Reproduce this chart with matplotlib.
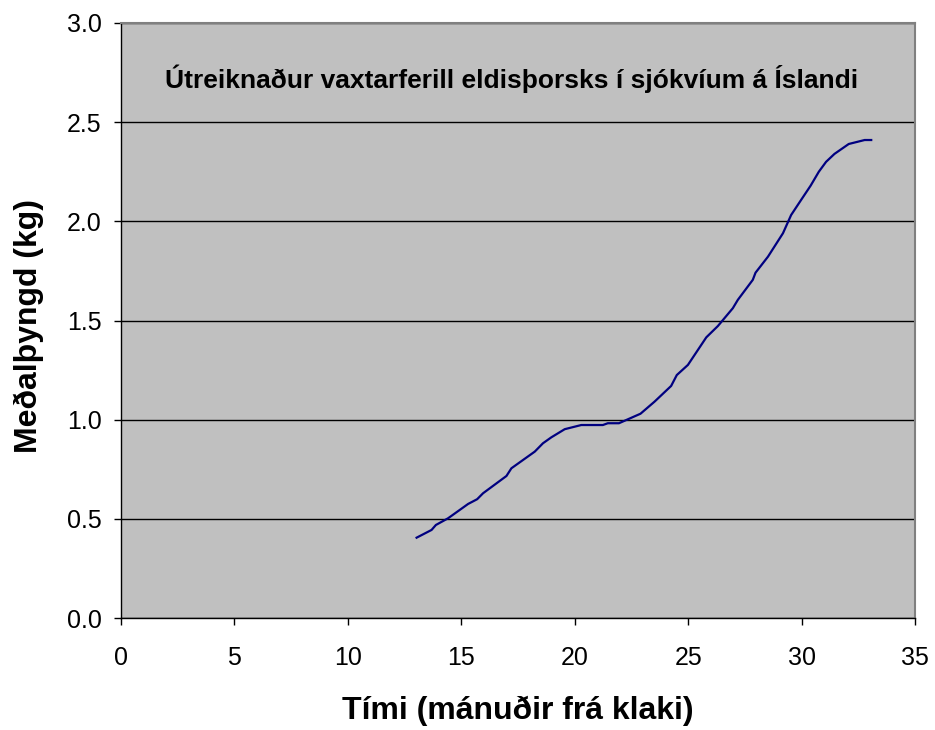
import matplotlib
matplotlib.use("Agg")
import matplotlib.pyplot as plt

months = [13.03, 13.69, 13.88, 14.42, 15.30, 15.70, 15.96, 16.99, 17.21, 18.24,
          18.60, 18.97, 19.56, 20.29, 21.24, 21.46, 21.95, 22.90, 23.52, 24.25,
          24.50, 24.99, 25.80, 26.31, 26.97, 27.19, 27.85, 27.97, 28.52, 29.18,
          29.54, 29.98, 30.40, 30.76, 31.08, 31.45, 32.08, 32.78, 33.07]
weight = [0.405, 0.444, 0.469, 0.503, 0.575, 0.599, 0.629, 0.716, 0.755, 0.839,
          0.881, 0.911, 0.952, 0.973, 0.973, 0.982, 0.982, 1.030, 1.091, 1.170,
          1.225, 1.276, 1.415, 1.472, 1.562, 1.604, 1.705, 1.741, 1.822, 1.940,
          2.032, 2.108, 2.180, 2.250, 2.300, 2.340, 2.390, 2.410, 2.410]

x_ticks = [0, 5, 10, 15, 20, 25, 30, 35]
y_ticks = [0.0, 0.5, 1.0, 1.5, 2.0, 2.5, 3.0]

plt.rcParams['font.family'] = ['Liberation Sans', 'DejaVu Sans']

W, H = 935, 730
fig = plt.figure(figsize=(W/100, H/100), dpi=100)
ax = fig.add_axes([121/W, 1 - 618/H, (915-121)/W, (618-23)/H])
ax.set_facecolor('#C0C0C0')

ax.plot(months, weight, color='#000080', linewidth=1.6)

ax.set_xlim(0, 35)
ax.set_ylim(0, 3.0)
ax.set_xticks(x_ticks)
ax.set_xticklabels([str(v) for v in x_ticks])
ax.set_yticks(y_ticks)
ax.set_yticklabels([f"{v:.1f}" for v in y_ticks])
ax.yaxis.grid(True, color='black', linewidth=1.0)
ax.set_axisbelow(True)
ax.tick_params(axis='both', direction='out', length=5, width=1, labelsize=18, colors='black')
ax.tick_params(axis='x', pad=15)
ax.tick_params(axis='y', pad=9)

for s in ['left', 'bottom']:
    ax.spines[s].set_color('black')
    ax.spines[s].set_linewidth(1)
for s in ['top', 'right']:
    ax.spines[s].set_color('#808080')
    ax.spines[s].set_linewidth(1.5)

fig.text(518/W, 1 - 719/H, 'Tími (mánuðir frá klaki)', ha='center', va='baseline',
         fontsize=23, fontweight='bold')
fig.text(29/W, 1 - 326/H, 'Meðalþyngd (kg)', ha='center', va='center', rotation=90,
         fontsize=23, fontweight='bold')

fig.text(512/W, 1 - 88/H, 'Útreiknaður vaxtarferill eldisþorsks í sjókvíum á Íslandi',
         ha='center', va='baseline', fontsize=19, fontweight='bold')

fig.savefig('out.png', dpi=100, facecolor='white')
